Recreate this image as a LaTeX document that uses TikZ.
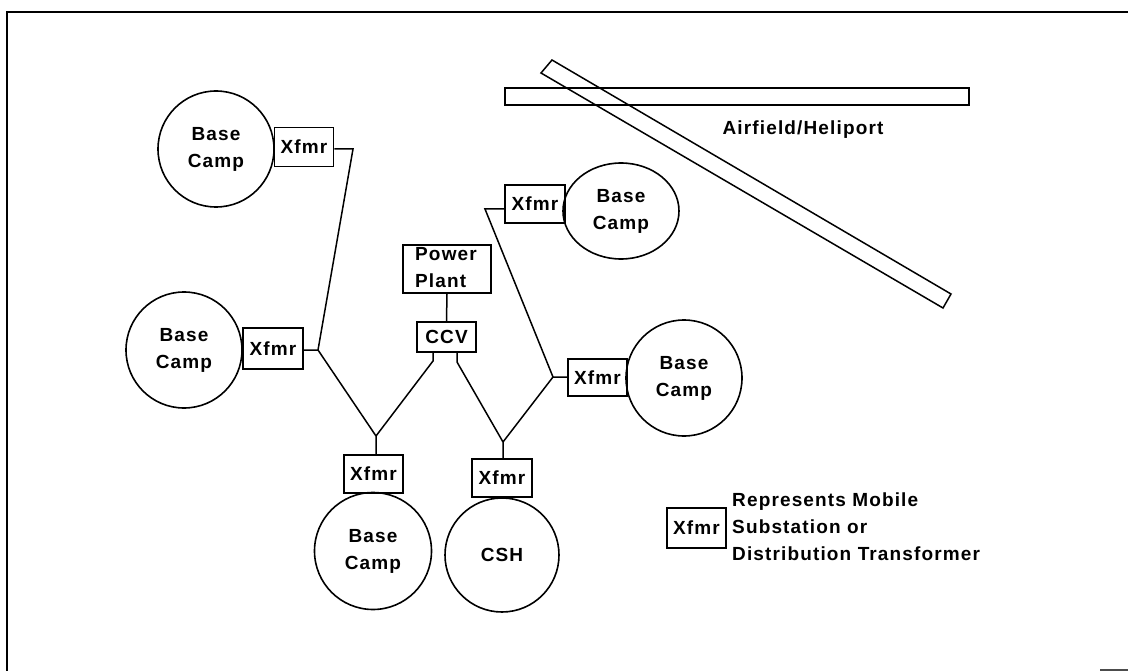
\documentclass[tikz,border=0pt]{standalone}
\usepackage{fontspec}
\usetikzlibrary{shapes.geometric}
\setmainfont{Liberation Sans}[LetterSpace=6]
\begin{document}
\begin{tikzpicture}[x=1pt,y=-1pt,
  every node/.style={font=\fontsize{19}{27}\selectfont\bfseries, align=center, inner sep=0pt},
  site/.style={draw, circle, line width=1.6pt, minimum size=116pt},
  xfmr/.style={draw, rectangle, line width=1.6pt, minimum width=59pt, minimum height=39pt},
  wire/.style={line width=1.5pt},
  strip/.style={draw, line width=1.5pt}]
\useasboundingbox (0,0) rectangle (1128,671);
% outer frame
\draw[line width=2.5pt] (7,675) -- (7,12) -- (1130,12);
\draw[line width=2pt, black!70] (1100,670) -- (1130,670);

% runways of the airfield
\draw[strip] (505,88) rectangle (969,105);
\draw[strip] (552,60) -- (951,294) -- (943,308) -- (541,73) -- cycle;
\node (air) at (803,130) {Airfield/Heliport};

% power plant and central control
\node[draw, rectangle, line width=1.6pt, minimum width=88pt, minimum height=48pt] (pp) at (447,269) {};
\node[anchor=west, align=left] (pptxt) at (415,268) {Power\\Plant};
\node[xfmr, minimum width=59pt, minimum height=30pt] (ccv) at (446.5,337) {CCV};

% camps and their transformers
\node[site] (cTL) at (216,149) {Base\\Camp};
\node[xfmr] (xTL) at (304,147) {Xfmr};
\node[site] (cML) at (184,350) {Base\\Camp};
\node[xfmr, minimum width=60pt, minimum height=41pt] (xML) at (273,348.5) {Xfmr};
\node[site, minimum size=117pt] (cB) at (373,551) {Base\\Camp};
\node[xfmr, minimum height=38pt] (xB) at (373.5,474) {Xfmr};
\node[site, minimum size=114pt] (cH) at (502,555) {CSH};
\node[xfmr, minimum width=60pt, minimum height=38pt] (xH) at (502,478) {Xfmr};
\node[draw, ellipse, line width=1.6pt, minimum width=116pt, minimum height=96pt] (cTR) at (621,211) {Base\\Camp};
\node[xfmr, minimum width=60pt, minimum height=38pt] (xTR) at (535,204) {Xfmr};
\node[site] (cR) at (684,378) {Base\\Camp};
\node[xfmr, minimum height=37pt] (xR) at (597.5,377.5) {Xfmr};

% junction points of the feeders
\coordinate (kTL) at (353,149);
\coordinate (jL) at (318,350);
\coordinate (vL) at (376,436);
\coordinate (ccvL) at (433,361);
\coordinate (ccvR) at (457,362);
\coordinate (vR) at (503,442);
\coordinate (jR) at (553,377);
\coordinate (kTR) at (485,209);

% feeders
\draw[wire] (pp.south) -- (ccv.north);
\draw[wire] (xTL.east |- kTL) -- (kTL) -- (jL);
\draw[wire] (xML.east |- jL) -- (jL) -- (vL) -- (xB.north -| vL);
\draw[wire] (ccv.south -| ccvL) -- (ccvL) -- (vL);
\draw[wire] (ccv.south -| ccvR) -- (ccvR) -- (vR) -- (xH.north -| vR);
\draw[wire] (vR) -- (jR) -- (xR.west |- jR);
\draw[wire] (jR) -- (kTR) -- (xTR.west |- kTR);

% legend
\node[xfmr, minimum width=59pt, minimum height=40pt] (lx) at (696.5,528) {Xfmr};
\node[anchor=west, align=left] (ltxt) at (732,527) {Represents Mobile\\Substation or\\Distribution Transformer};
\end{tikzpicture}
\end{document}
